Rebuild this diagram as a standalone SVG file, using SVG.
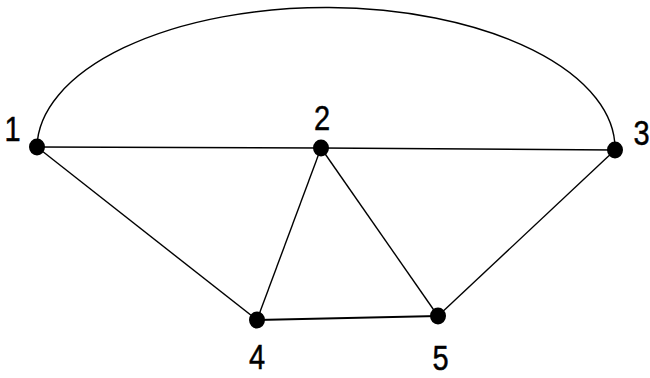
<svg xmlns="http://www.w3.org/2000/svg" width="650" height="378" viewBox="0 0 650 378">
<style>
.e{stroke:#000;stroke-width:1.4;fill:none}
.n{fill:#000}
.t{font-family:"Liberation Sans",Arial,sans-serif;font-size:29px;text-anchor:middle;fill:#000;stroke:#000;stroke-width:0.4}
</style>
<rect width="650" height="378" fill="#fff"/>
<g id="connectors">
<path class="e" d="M37,147 A289,141 0 0 1 615,150"/>
<line class="e" x1="37" y1="147" x2="321" y2="148"/>
<line class="e" x1="321" y1="148" x2="615" y2="150"/>
<line class="e" x1="37" y1="147" x2="257" y2="320"/>
<line class="e" x1="321" y1="148" x2="257" y2="320"/>
<line class="e" x1="321" y1="148" x2="438" y2="316"/>
<line class="e" x1="615" y1="150" x2="438" y2="316"/>
<line class="e" style="stroke-width:2" x1="257" y1="320" x2="438" y2="316"/>
</g>
<g id="node1"><ellipse class="n" cx="37" cy="147" rx="8" ry="8.5"/><text class="t" transform="translate(12.5,141) scale(1,1.2)">1</text></g>
<g id="node2"><ellipse class="n" cx="321" cy="148" rx="8" ry="8.5"/><text class="t" transform="translate(322,130) scale(1,1.2)">2</text></g>
<g id="node3"><ellipse class="n" cx="615" cy="150" rx="8" ry="8.5"/><text class="t" transform="translate(641.5,145) scale(1,1.2)">3</text></g>
<g id="node4"><ellipse class="n" cx="257" cy="320" rx="8" ry="8.5"/><text class="t" transform="translate(257,369) scale(1,1.2)">4</text></g>
<g id="node5"><ellipse class="n" cx="438" cy="316" rx="8" ry="8.5"/><text class="t" transform="translate(440.5,370) scale(1,1.2)">5</text></g>
</svg>
